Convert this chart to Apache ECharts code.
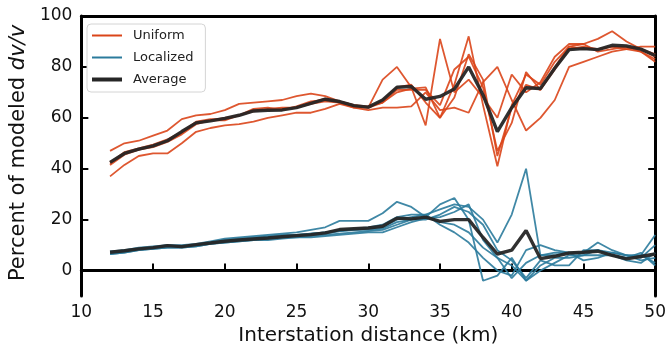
<!DOCTYPE html>
<html>
<head>
<meta charset="utf-8">
<script src="https://cdn.jsdelivr.net/npm/echarts@6/dist/echarts.min.js"></script>
<style>
  html, body { margin: 0; padding: 0; background: #fff; }
  #chart { width: 669px; height: 351px; }
</style>
</head>
<body>
<div id="chart"></div>
<script>
// interstation distance (km)
const distance = [12, 13, 14, 15, 16, 17, 18, 19, 20, 21, 22, 23, 24, 25, 26, 27, 28, 29, 30,
  31, 32, 33, 34, 35, 36, 37, 38, 39, 40, 41, 42, 43, 44, 45, 46, 47, 48, 49, 50];

// uniform model runs
const uniform1 = [47, 50, 51, 53, 55, 59.5, 61, 61.5, 63, 65.5, 66, 66.5, 67, 68.5, 69.5, 68.5, 66.5, 65, 64,
  75, 80, 72, 57, 91, 70, 75, 68, 60, 77, 70, 74, 84, 89, 89, 91, 94, 90, 87, 85];
const uniform2 = [37, 41.5, 45, 46, 46, 50, 54.5, 56, 57, 57.5, 58.5, 60, 61, 62, 62, 63.5, 65.5, 64, 63,
  64, 64, 64.5, 70, 63, 64, 62, 74, 80, 67, 55, 60, 67, 80, 82, 84, 86, 87, 88, 88];
const uniform3 = [42, 46, 47.5, 49, 51, 54, 58, 59, 60, 61, 63, 63, 63.5, 64, 66, 67.5, 66, 64.5, 64,
  67, 72, 73, 66, 60, 73, 92, 65, 41, 65, 77, 73, 82, 88, 89, 86, 87, 88, 87, 84];
const uniform4 = [42.5, 46.5, 48, 49.5, 51.5, 54.5, 58.5, 59.5, 59.5, 61, 63.5, 64, 63, 64.5, 66.5, 67, 66.5, 65, 64.5,
  66, 71, 71, 71, 65, 79, 84, 72, 47, 58, 78, 71, 80, 88, 87, 87, 88, 87, 86, 83];
const uniform5 = [41.5, 45.5, 47.5, 48.5, 50.5, 53.5, 57.5, 59, 59, 61, 62.5, 63.5, 64, 64, 65.5, 66.5, 66, 64, 64,
  66, 70, 71.5, 72, 60, 68, 85, 75, 45, 64, 73, 71, 79, 87, 88, 87, 88, 88, 86, 82];
const uniformAvg = [42.5, 46, 47.7, 49, 51, 54.6, 58, 58.8, 59.8, 61, 62.7, 63, 63.1, 64, 65.7, 67.3, 66.4, 64.8, 64.2,
  67, 72, 72.3, 67.3, 68.4, 71.3, 80, 69, 54.6, 64, 71.8, 71.5, 79.5, 86.8, 87.2, 86.8, 88.5, 88.2, 87, 84.5];

// localized model runs
const localized1 = [7.5, 8, 9, 9.5, 10, 10, 10.5, 11.5, 12.5, 13, 13.5, 14, 14.5, 15, 16, 17, 19.5, 19.5, 19.5,
  22.5, 27, 25, 21, 19, 18, 15, 9, 5, -3, 3, 6, 6, 7, 7, 11, 8, 6, 6, 14];
const localized2 = [7, 7.5, 8.5, 9, 9.5, 9.5, 10, 11, 11.5, 12, 12.5, 13, 13.5, 13.5, 14, 14.5, 15.5, 16, 16.5,
  17, 20, 21, 22, 24, 26, 25, 20, 11, 22, 40, 6, 7, 7, 7, 8, 7, 6, 4, 5];
const localized3 = [6.5, 7, 8, 8.5, 9, 9, 9.5, 10.5, 11, 11.5, 12, 12.5, 13, 13, 13.5, 14, 14.5, 15, 15.5,
  16, 18, 20, 21, 26, 28.5, 20, -4, -2, 5, -4, 2, 5, 5, 6, 6, 6, 5, 7, 2];
const localized4 = [7, 7.5, 8.5, 9, 10, 9.5, 10, 11, 12, 12.5, 13, 13.5, 14, 14, 14.5, 15, 16, 16.5, 17,
  18, 21, 22, 22, 18, 15, 11, 5, 0, -2, 8, 10, 8, 7, 4, 5, 7, 6, 5, 10];
const localized5 = [6.5, 7, 8, 8.5, 9, 9, 9.5, 10.5, 11, 11.5, 12, 12, 12.5, 13, 13, 13.5, 14, 14.5, 15,
  15, 17, 19, 20.5, 21, 23, 26, 12, 5, 2, -4, 0, 3, 6, 6, 8, 6, 5, 6, 3];
const localized6 = [7, 8, 8.5, 9, 9.5, 9.5, 10, 11, 11.5, 12, 12.5, 13, 13.5, 14, 14.5, 15, 15.5, 16, 16,
  16.5, 19, 20, 20, 22, 25, 23, 18, 8, 4, -3, 4, 2, 2, 8, 8, 6, 4, 3, 7];
const localizedAvg = [7.2, 7.8, 8.5, 9, 9.8, 9.4, 10.2, 10.8, 11.5, 12, 12.4, 12.8, 13.3, 13.7, 14.1, 14.8, 16.1, 16.4, 16.7,
  17.4, 20.6, 20.3, 21, 19.3, 20, 20, 13, 6.5, 8, 15.7, 4.7, 5.6, 6.9, 7.2, 7.6, 6, 4.6, 5.5, 6.5];

const yTicks = [0, 20, 40, 60, 80, 100];

const ORANGE = '#da4519';
const BLUE = '#2b7b9c';
const BLACK = '#262626';
const FONT = 'DejaVu Sans';

function pairs(vals) {
  return distance.map((d, i) => [d, vals[i]]);
}

function runSeries(name, vals, color) {
  return {
    name: name,
    type: 'line',
    data: pairs(vals),
    symbol: 'none',
    silent: true,
    lineStyle: { color: color, width: 1.8, opacity: 0.9 },
    itemStyle: { color: color }
  };
}

function avgSeries(vals) {
  return {
    name: 'Average',
    type: 'line',
    data: pairs(vals),
    symbol: 'none',
    silent: true,
    lineStyle: { color: BLACK, width: 3.4, opacity: 0.95 },
    itemStyle: { color: BLACK }
  };
}

const series = [];
[uniform1, uniform2, uniform3, uniform4, uniform5].forEach(v => series.push(runSeries('Uniform', v, ORANGE)));
series.push(avgSeries(uniformAvg));
[localized1, localized2, localized3, localized4, localized5, localized6].forEach(v => series.push(runSeries('Localized', v, BLUE)));
series.push(avgSeries(localizedAvg));

const thinIcon = 'path://M0,0H30V2H0Z';
const thickIcon = 'path://M0,0H30V4H0Z';

const chart = echarts.init(document.getElementById('chart'), null, { renderer: 'canvas' });

const option = {
  animation: false,
  textStyle: { fontFamily: FONT },
  grid: { left: 80, right: 13, top: 16, bottom: 54 },
  legend: {
    left: 87,
    top: 24,
    orient: 'vertical',
    data: [
      { name: 'Uniform', icon: thinIcon, itemStyle: { color: ORANGE } },
      { name: 'Localized', icon: thinIcon, itemStyle: { color: BLUE } },
      { name: 'Average', icon: thickIcon, itemStyle: { color: BLACK } }
    ],
    itemWidth: 30,
    itemHeight: 12,
    itemGap: 9,
    symbolKeepAspect: true,
    padding: [5, 12, 6, 5],
    backgroundColor: '#fff',
    borderColor: '#d4d4d4',
    borderWidth: 1,
    borderRadius: 4,
    textStyle: { fontFamily: FONT, fontSize: 13, color: '#222', padding: [0, 0, 0, 6] }
  },
  xAxis: [{
    type: 'value',
    min: 10,
    max: 50,
    interval: 5,
    name: 'Interstation distance (km)',
    nameLocation: 'middle',
    nameGap: 30,
    nameTextStyle: { fontFamily: FONT, fontSize: 20, color: '#111' },
    axisLine: { lineStyle: { color: '#000', width: 3 } },
    axisTick: { inside: true, length: 7, lineStyle: { color: '#000', width: 2 } },
    axisLabel: { fontFamily: FONT, fontSize: 17, color: '#111', margin: 8 },
    splitLine: { show: false }
  }, {
    type: 'value',
    position: 'top',
    min: 10,
    max: 50,
    axisLine: { show: true, onZero: false, lineStyle: { color: '#000', width: 3 } },
    axisTick: { show: false },
    axisLabel: { show: false },
    splitLine: { show: false }
  }],
  yAxis: [{
    type: 'value',
    min: -10,
    max: 100,
    name: '{t|Percent of modeled }{i|dv/v}',
    nameLocation: 'middle',
    nameGap: 49,
    nameTextStyle: {
      padding: [0, 0, 0, 6],
      rich: {
        t: { fontFamily: FONT, fontSize: 21, color: '#111' },
        i: { fontFamily: FONT, fontSize: 21, fontStyle: 'italic', color: '#111' }
      }
    },
    axisLine: { show: true, onZero: false, lineStyle: { color: '#000', width: 3 } },
    axisTick: { inside: true, length: 7, customValues: yTicks, lineStyle: { color: '#000', width: 2 } },
    axisLabel: { fontFamily: FONT, fontSize: 17, color: '#111', margin: 9, customValues: yTicks },
    splitLine: { show: false }
  }, {
    type: 'value',
    position: 'right',
    min: -10,
    max: 100,
    axisLine: { show: true, onZero: false, lineStyle: { color: '#000', width: 3 } },
    axisTick: { inside: true, length: 7, customValues: yTicks, lineStyle: { color: '#000', width: 2 } },
    axisLabel: { show: false },
    splitLine: { show: false }
  }],
  series: series
};

chart.setOption(option);
</script>
</body>
</html>
